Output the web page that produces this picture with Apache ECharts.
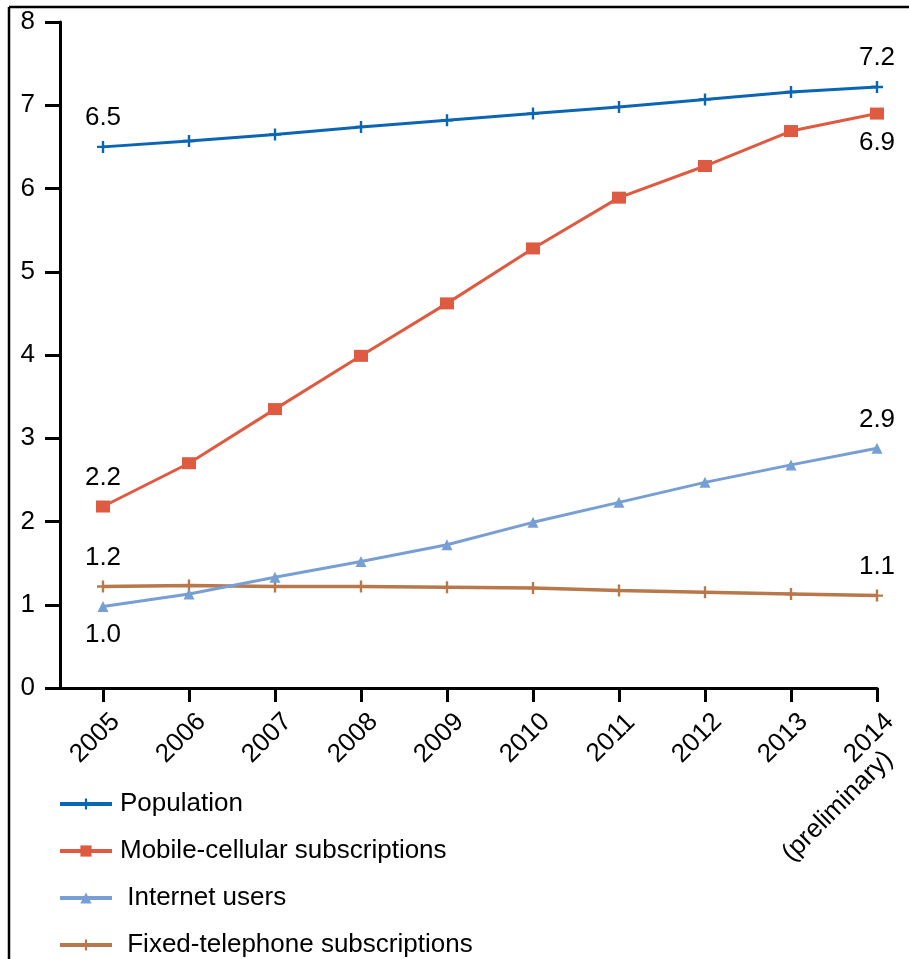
<!DOCTYPE html>
<html>
<head>
<meta charset="utf-8">
<script src="https://cdn.jsdelivr.net/npm/echarts@6/dist/echarts.min.js"></script>
<style>
html,body{margin:0;padding:0;background:#fff;}
#chart{width:909px;height:959px;}
</style>
</head>
<body>
<div id="chart"></div>
<script>
// ---- data ----
const years = [2005, 2006, 2007, 2008, 2009, 2010, 2011, 2012, 2013, 2014];
const yearLabels = ['2005', '2006', '2007', '2008', '2009', '2010', '2011', '2012', '2013', '2014\n(preliminary)'];
const yTicks = [0, 1, 2, 3, 4, 5, 6, 7, 8];
const population = [6.50, 6.57, 6.65, 6.74, 6.82, 6.90, 6.98, 7.07, 7.16, 7.22];
const mobile = [2.18, 2.70, 3.35, 3.99, 4.62, 5.28, 5.89, 6.27, 6.69, 6.90];
const internet = [0.98, 1.13, 1.33, 1.52, 1.72, 1.99, 2.23, 2.47, 2.68, 2.88];
const fixedTel = [1.22, 1.23, 1.22, 1.22, 1.21, 1.20, 1.17, 1.15, 1.13, 1.11];
const seriesNames = ['Population', 'Mobile-cellular subscriptions', 'Internet users', 'Fixed-telephone subscriptions'];

// ---- styles ----
const FONT = '"Liberation Sans", Arial, sans-serif';
const plusPath = 'path://M4,0h2v4h4v2h-4v4h-2v-4h-4v-2h4z';
const styles = [
  {color: '#0a66b4', symbol: plusPath, size: 12, width: 3, pos: ['top', 'top']},
  {color: '#de5a40', symbol: 'rect', size: [14, 12], width: 3, pos: ['top', 'bottom']},
  {color: '#779fd4', symbol: 'triangle', size: 11, width: 3, pos: ['bottom', 'top']},
  {color: '#b8784c', symbol: plusPath, size: 12, width: 3.5, pos: ['top', 'top']}
];
const allValues = [population, mobile, internet, fixedTel];

function buildSeries(idx) {
  const vals = allValues[idx];
  const st = styles[idx];
  const last = vals.length - 1;
  return {
    name: seriesNames[idx],
    type: 'line',
    data: vals.map((v, i) => ({
      value: [years[i], v],
      label: {
        show: i === 0 || i === last,
        position: i === 0 ? st.pos[0] : st.pos[1]
      }
    })),
    symbol: st.symbol,
    symbolSize: st.size,
    showAllSymbol: true,
    itemStyle: {color: st.color},
    lineStyle: {color: st.color, width: st.width},
    label: {
      distance: 10,
      color: '#000',
      fontSize: 26,
      fontFamily: FONT,
      formatter: p => p.value[1].toFixed(1)
    },
    emphasis: {disabled: true},
    z: 10 - idx
  };
}

const chart = echarts.init(document.getElementById('chart'), null, {renderer: 'canvas'});
chart.setOption({
  animation: false,
  backgroundColor: '#fff',
  textStyle: {fontFamily: FONT},
  grid: {left: 60, top: 22, right: 32, bottom: 271, containLabel: false, outerBoundsMode: 'none'},
  xAxis: {
    type: 'value',
    min: 2004.5,
    max: 2014,
    splitLine: {show: false},
    axisLine: {lineStyle: {color: '#000', width: 3}},
    axisTick: {show: true, length: 14, lineStyle: {color: '#000', width: 3}, customValues: years},
    axisLabel: {
      customValues: years,
      rotate: 45,
      margin: 24,
      align: 'center',
      verticalAlign: 'top',
      color: '#000',
      fontSize: 26,
      fontFamily: FONT,
      hideOverlap: false,
      formatter: v => {
        const i = years.indexOf(Math.round(v));
        const lines = (i >= 0 ? yearLabels[i] : '').split('\n');
        return lines.map((s, k) => '{' + (k === 0 ? 't' : 'p') + '|' + s + '}').join('\n');
      },
      rich: {
        t: {fontSize: 26, fontFamily: FONT, color: '#000', lineHeight: 26, padding: [0, 48, 0, 0]},
        p: {fontSize: 26, fontFamily: FONT, color: '#000', lineHeight: 26, padding: [0, 189, 0, 0]}
      }
    }
  },
  yAxis: {
    type: 'value',
    min: yTicks[0],
    max: yTicks[yTicks.length - 1],
    interval: 1,
    splitLine: {show: false},
    axisLine: {show: true, lineStyle: {color: '#000', width: 3}},
    axisTick: {show: true, length: 15, lineStyle: {color: '#000', width: 3}},
    axisLabel: {margin: 25, color: '#000', fontSize: 26, fontFamily: FONT}
  },
  legend: {
    orient: 'vertical',
    left: 58,
    top: 791,
    height: 168,
    padding: 0,
    itemWidth: 52,
    itemHeight: 14,
    itemGap: 21,
    lineStyle: {width: 4},
    data: seriesNames,
    formatter: name => (name === 'Internet users' || name === 'Fixed-telephone subscriptions') ? ' ' + name : name,
    textStyle: {color: '#000', fontSize: 26, lineHeight: 26, fontFamily: FONT, padding: [0, 0, 0, 3]}
  },
  graphic: [
    {type: 'line', shape: {x1: 9, y1: 7, x2: 9, y2: 959}, style: {stroke: '#000', lineWidth: 2.5}, silent: true},
    {type: 'line', shape: {x1: 9, y1: 7, x2: 909, y2: 7}, style: {stroke: '#000', lineWidth: 2.5}, silent: true}
  ],
  series: [0, 1, 2, 3].map(buildSeries)
});
</script>
</body>
</html>
